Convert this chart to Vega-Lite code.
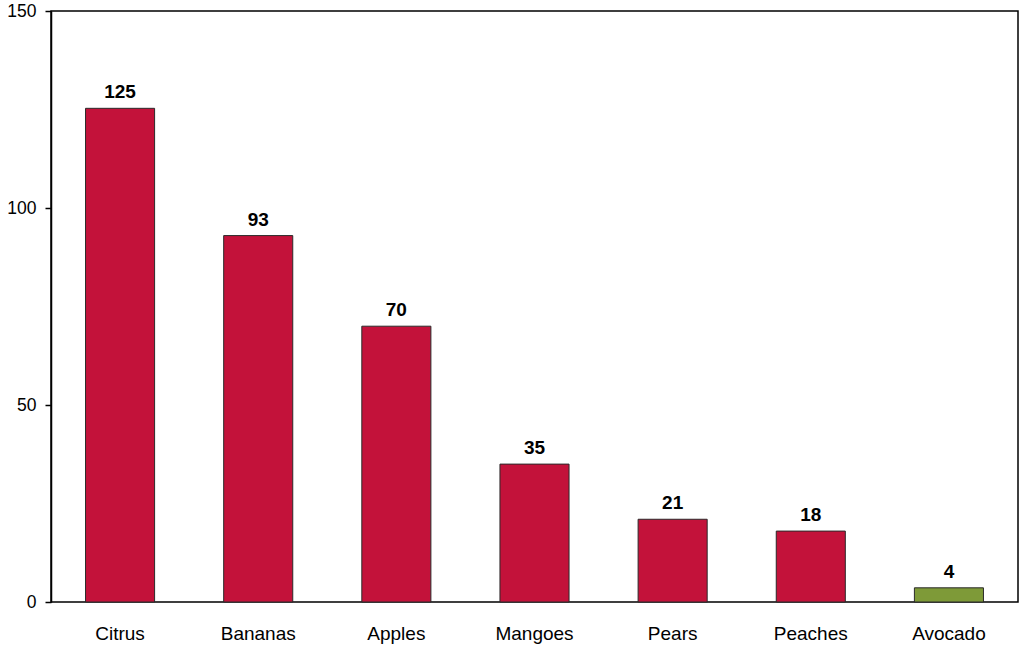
{
  "$schema": "https://vega.github.io/schema/vega-lite/v6.json",
  "width": 967,
  "height": 591,
  "autosize": {"type": "none"},
  "padding": {"left": 51, "top": 11, "right": 1, "bottom": 43},
  "background": "white",
  "config": {
    "font": "Liberation Sans",
    "view": {"stroke": "#000000", "strokeWidth": 1.5}
  },
  "data": {
    "values": [
      {"fruit": "Citrus", "value": 125.3, "label": "125", "group": "a"},
      {"fruit": "Bananas", "value": 93, "label": "93", "group": "a"},
      {"fruit": "Apples", "value": 70, "label": "70", "group": "a"},
      {"fruit": "Mangoes", "value": 35, "label": "35", "group": "a"},
      {"fruit": "Pears", "value": 21, "label": "21", "group": "a"},
      {"fruit": "Peaches", "value": 18, "label": "18", "group": "a"},
      {"fruit": "Avocado", "value": 3.6, "label": "4", "group": "b"}
    ]
  },
  "encoding": {
    "x": {
      "field": "fruit",
      "type": "nominal",
      "sort": null,
      "scale": {"paddingInner": 0.5, "paddingOuter": 0.25},
      "axis": {
        "title": null,
        "labelAngle": 0,
        "ticks": false,
        "domain": false,
        "labelFontSize": 19,
        "labelColor": "#000000",
        "labelPadding": 22
      }
    },
    "y": {
      "field": "value",
      "type": "quantitative",
      "scale": {"domain": [0, 150], "nice": false},
      "axis": {
        "title": null,
        "values": [0, 50, 100, 150],
        "grid": false,
        "tickSize": 6,
        "tickColor": "#000000",
        "tickWidth": 1.5,
        "domainColor": "#000000",
        "domainWidth": 1.5,
        "labelFontSize": 17.5,
        "labelColor": "#000000",
        "labelPadding": 9
      }
    }
  },
  "layer": [
    {
      "mark": {"type": "bar", "stroke": "#2a2a2a", "strokeWidth": 1},
      "encoding": {
        "color": {
          "field": "group",
          "type": "nominal",
          "scale": {"domain": ["a", "b"], "range": ["#C3123A", "#7E9A38"]},
          "legend": null
        }
      }
    },
    {
      "mark": {"type": "text", "baseline": "bottom", "dy": -6, "fontWeight": "bold", "fontSize": 19, "color": "#000000"},
      "encoding": {"text": {"field": "label"}}
    }
  ]
}
